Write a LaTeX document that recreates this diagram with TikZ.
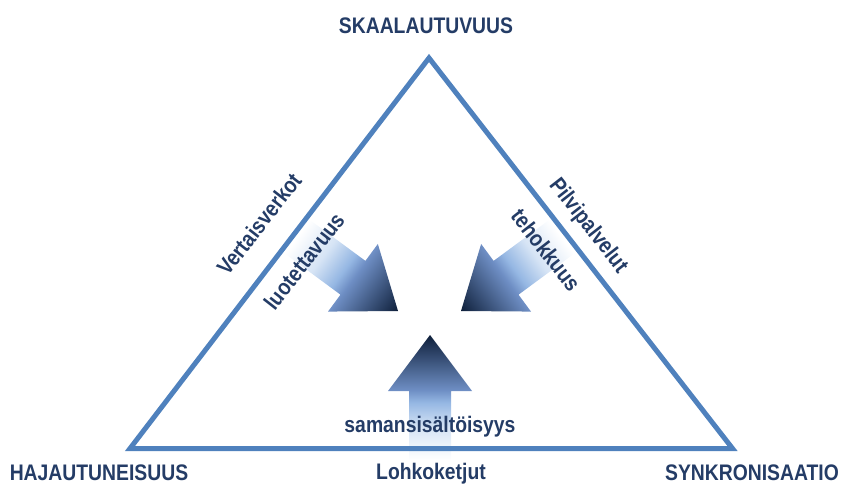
\documentclass[tikz,border=0pt]{standalone}
\usepackage{fontspec}
\setmainfont{Liberation Sans}[FakeStretch=0.86]

\definecolor{edgeblue}{RGB}{79,129,189}
\definecolor{labelnavy}{RGB}{36,60,102}
\definecolor{fadeA}{RGB}{214,228,245}
\definecolor{fadeB}{RGB}{149,183,227}
\definecolor{fadeC}{RGB}{110,142,196}
\definecolor{fadeD}{RGB}{14,31,58}

% light tail -> dark tip, along the arrow axis (bbox maps to 25bp..75bp)
\pgfdeclareverticalshading{arrowfade}{100bp}{%
  color(0bp)=(white); color(25bp)=(white); color(38bp)=(fadeA);
  color(48bp)=(fadeB); color(53bp)=(fadeC); color(75bp)=(fadeD);
  color(100bp)=(fadeD)}

\tikzset{
  caption/.style={text=labelnavy, inner sep=0pt,
    font=\fontsize{22.5}{25}\selectfont\bfseries},
  edge line/.style={draw=edgeblue, line width=5pt},
  % block arrow with its tip at the origin, pointing up
  fat arrow/.pic={
    \shade[shading=arrowfade] (0,0) -- (-42,-56) -- (-21,-56) -- (-21,-125)
      -- (21,-125) -- (21,-56) -- (42,-56) -- cycle;
  },
}

\begin{document}
\begin{tikzpicture}[x=1pt, y=1pt]
  \useasboundingbox (0,0) rectangle (846,488);

  % the three converging arrows
  \begin{scope}[transform canvas={shift={(398,177)}, rotate=-126.4}]
    \pic {fat arrow};
  \end{scope}
  \begin{scope}[transform canvas={shift={(461,177)}, rotate=126.4}]
    \pic {fat arrow};
  \end{scope}
  \begin{scope}[transform canvas={shift={(430,153)}}]
    \pic {fat arrow};
  \end{scope}

  % triangle
  \coordinate (top)   at (429,430);
  \coordinate (left)  at (130,39.5);
  \coordinate (right) at (732.5,39.5);
  \draw[edge line] (top) -- (left) -- (right) -- cycle;

  % corner labels
  \node[caption, anchor=base] (scale) at (426,454.7) {SKAALAUTUVUUS};
  \node[caption, anchor=base] (distr) at (99,7.5) {HAJAUTUNEISUUS};
  \node[caption, anchor=base] (sync)  at (752,7.5) {SYNKRONISAATIO};

  % side labels
  \node[caption, rotate=52]  (p2p)   at (259,264) {Vertaisverkot};
  \node[caption, rotate=-52] (cloud) at (588,262) {Pilvipalvelut};
  \node[caption, anchor=base] (chain) at (431,9) {Lohkoketjut};

  % arrow labels
  \node[caption, rotate=52]  (rel)  at (304,227) {luotettavuus};
  \node[caption, rotate=-52] (eff)  at (546,238) {tehokkuus};
  \node[caption, anchor=base] (cons) at (430,56) {samansisältöisyys};
\end{tikzpicture}
\end{document}
